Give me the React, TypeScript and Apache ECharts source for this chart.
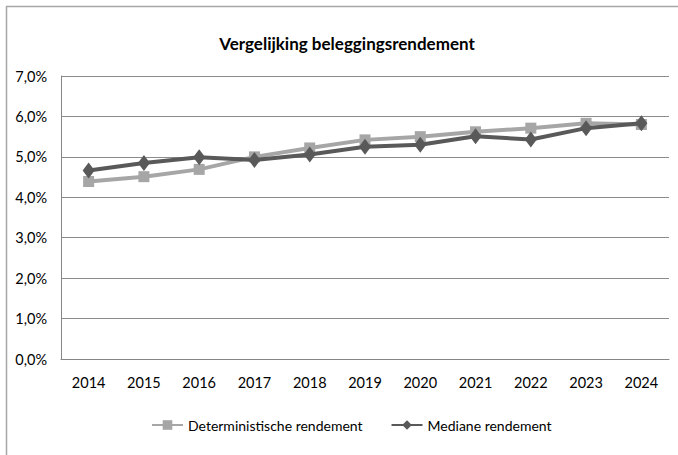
import React, { useEffect, useRef } from "react";
import * as echarts from "echarts";

const categories = ["2014", "2015", "2016", "2017", "2018", "2019", "2020", "2021", "2022", "2023", "2024"];
const deterministisch = [4.39, 4.51, 4.69, 5.0, 5.22, 5.42, 5.5, 5.62, 5.71, 5.83, 5.8];
const mediaan = [4.66, 4.85, 4.99, 4.92, 5.06, 5.25, 5.3, 5.51, 5.43, 5.71, 5.83];
const yTicks = { min: 0, max: 7, interval: 1 };

const FONT = "Lato, 'Open Sans', sans-serif";

export default function App() {
  const ref = useRef<HTMLDivElement>(null);
  useEffect(() => {
    document.body.style.margin = "0";
    const chart = echarts.init(ref.current!, null, { renderer: "svg" });
    chart.setOption({
      animation: false,
      backgroundColor: "#ffffff",
      title: {
        text: "Vergelijking beleggingsrendement",
        left: 342,
        textAlign: "center",
        top: 30,
        textStyle: { fontFamily: FONT, fontSize: 17, fontWeight: "bold", color: "#000" },
      },
      graphic: [
        {
          type: "rect",
          shape: { x: 6.5, y: 6.5, width: 720, height: 500 },
          style: { fill: "none", stroke: "#a6a6a6", lineWidth: 1.5 },
          silent: true,
          z: -1,
        },
      ],
      legend: {
        bottom: 18,
        left: 146,
        itemWidth: 31,
        itemHeight: 12,
        itemGap: 28,
        textStyle: { fontFamily: FONT, fontSize: 14, color: "#000" },
        data: ["Deterministische rendement", "Mediane rendement"],
      },
      grid: { left: 61, right: 9, top: 76, bottom: 96 },
      xAxis: {
        type: "category",
        data: categories,
        boundaryGap: true,
        axisLine: { lineStyle: { color: "#868686", width: 1 } },
        axisTick: { show: false },
        axisLabel: { fontFamily: FONT, fontSize: 14.5, color: "#000", margin: 16 },
      },
      yAxis: {
        type: "value",
        min: yTicks.min,
        max: yTicks.max,
        interval: yTicks.interval,
        axisLine: { show: true, lineStyle: { color: "#868686", width: 1 } },
        axisTick: { show: false },
        splitLine: { lineStyle: { color: "#8c8c8c", width: 1 } },
        axisLabel: {
          fontFamily: FONT,
          fontSize: 14.5,
          color: "#000",
          margin: 14,
          formatter: (v: number) => v.toFixed(1).replace(".", ",") + "%",
        },
      },
      series: [
        {
          name: "Deterministische rendement",
          type: "line",
          data: deterministisch,
          symbol: "rect",
          symbolSize: 11,
          lineStyle: { color: "#a6a6a6", width: 4 },
          itemStyle: { color: "#a6a6a6" },
          z: 2,
        },
        {
          name: "Mediane rendement",
          type: "line",
          data: mediaan,
          symbol: "diamond",
          symbolSize: [12, 16],
          lineStyle: { color: "#595959", width: 4 },
          itemStyle: { color: "#595959" },
          z: 3,
        },
      ],
    });
    return () => chart.dispose();
  }, []);
  return <div ref={ref} style={{ width: 678, height: 455, position: "fixed", left: 0, top: 0 }} />;
}
